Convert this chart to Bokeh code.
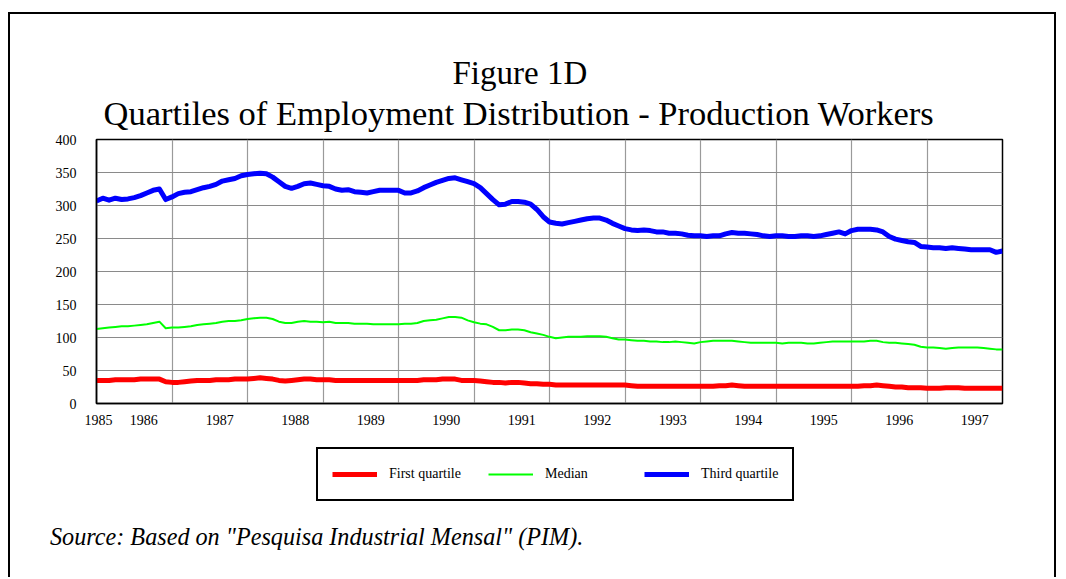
from bokeh.plotting import figure
from bokeh.layouts import column
from bokeh.models import Range1d, FixedTicker, Legend, LegendItem, Title, Div
from bokeh.embed import file_html
from bokeh.resources import INLINE

# ---- data (monthly, Jun 1985 .. Jun 1997) ----
years = [1985, 1986, 1987, 1988, 1989, 1990, 1991, 1992, 1993, 1994, 1995, 1996, 1997]

third_quartile = [
    307, 311, 308, 311, 309, 310, 312, 315, 319, 323, 325, 309, 313, 318, 320, 321, 324, 327, 329, 332, 337, 339, 341, 345, 347,
    348, 349, 348, 343, 336, 329, 326, 329, 333, 334, 332, 330, 329, 325, 323, 324, 321, 320, 319, 321, 323, 323, 323, 323,
    319, 319, 322, 327, 331, 335, 338, 341, 342, 339, 336, 333, 327, 318, 309, 301, 302, 306, 306, 305, 302, 294, 283, 275,
    273, 272, 274, 276, 278, 280, 281, 281, 278, 273, 269, 265, 263, 262, 263, 262, 260, 260, 258, 258, 257, 255, 254, 254,
    253, 254, 254, 257, 259, 258, 258, 257, 256, 254, 253, 254, 254, 253, 253, 254, 254, 253, 254, 256, 258, 260, 257, 262,
    264, 264, 264, 263, 260, 253, 249, 247, 245, 244, 238, 237, 236, 236, 235, 236, 235, 234, 233, 233, 233, 233, 229, 231,
]

median = [
    113, 114, 115, 116, 117, 117, 118, 119, 120, 122, 124, 114, 115, 115, 116, 117, 119, 120, 121, 122, 124, 125, 125, 126, 128,
    129, 130, 130, 128, 124, 122, 122, 124, 125, 124, 124, 123, 124, 122, 122, 122, 121, 121, 121, 120, 120, 120, 120, 120,
    121, 121, 122, 125, 126, 127, 129, 131, 131, 130, 126, 123, 121, 120, 116, 111, 111, 112, 112, 111, 108, 106, 104, 101,
    99, 100, 101, 101, 101, 102, 102, 102, 101, 99, 97, 97, 96, 95, 95, 94, 94, 93, 93, 94, 93, 92, 91, 93,
    94, 95, 95, 95, 95, 94, 93, 92, 92, 92, 92, 92, 91, 92, 92, 92, 91, 91, 92, 93, 94, 94, 94, 94,
    94, 94, 95, 95, 93, 92, 92, 91, 90, 89, 86, 85, 85, 84, 83, 84, 85, 85, 85, 85, 84, 83, 82, 82,
]

first_quartile = [
    35, 35, 35, 36, 36, 36, 36, 37, 37, 37, 37, 33, 32, 32, 33, 34, 35, 35, 35, 36, 36, 36, 37, 37, 37,
    38, 39, 38, 37, 35, 34, 35, 36, 37, 37, 36, 36, 36, 35, 35, 35, 35, 35, 35, 35, 35, 35, 35, 35,
    35, 35, 35, 36, 36, 36, 37, 37, 37, 35, 35, 35, 34, 33, 32, 32, 31, 32, 32, 31, 30, 30, 29, 29,
    28, 28, 28, 28, 28, 28, 28, 28, 28, 28, 28, 28, 27, 26, 26, 26, 26, 26, 26, 26, 26, 26, 26, 26,
    26, 26, 27, 27, 28, 27, 26, 26, 26, 26, 26, 26, 26, 26, 26, 26, 26, 26, 26, 26, 26, 26, 26, 26,
    26, 27, 27, 28, 27, 26, 25, 25, 24, 24, 24, 23, 23, 23, 24, 24, 24, 23, 23, 23, 23, 23, 23, 23,
]

y_ticks = [0, 50, 100, 150, 200, 250, 300, 350, 400]

series_names = ["First quartile", "Median", "Third quartile"]
series_values = [first_quartile, median, third_quartile]
series_colors = ["#FF0000", "#00FF00", "#0000FF"]
series_widths = [5, 2, 5]

months = list(range(len(third_quartile)))
n_last = months[-1]

SERIF = "Liberation Serif"
BORDER = "2px solid black"

# ---------------- main chart ----------------
p = figure(width=1048, height=421, output_backend="svg", toolbar_location=None,
           x_range=Range1d(0, n_last), y_range=Range1d(0, 400),
           min_border_left=86, min_border_right=56, min_border_top=125, min_border_bottom=32,
           background_fill_color="white", border_fill_color="white")
p.styles = {"border-left": BORDER, "border-top": BORDER, "border-right": BORDER}

p.outline_line_color = "black"
p.outline_line_width = 1.5

label_pos = [0.3, 7.5] + [round(7.6 + 12 * k, 1) for k in range(1, len(years) - 1)]
p.xaxis.ticker = FixedTicker(ticks=label_pos)
p.xaxis.major_label_overrides = {pos: str(y) for pos, y in zip(label_pos, years)}
p.xgrid.ticker = FixedTicker(ticks=list(range(12, n_last, 12)))
p.yaxis.ticker = FixedTicker(ticks=y_ticks)

for ax in (p.xaxis[0], p.yaxis[0]):
    ax.major_tick_out = 0
    ax.major_tick_in = 0
    ax.minor_tick_out = 0
    ax.minor_tick_in = 0
    ax.axis_line_color = "black"
    ax.axis_line_width = 1.5
    ax.major_label_text_font = SERIF
    ax.major_label_text_font_size = "14px"
    ax.major_label_text_color = "black"
p.yaxis.major_label_standoff = 20
p.xaxis.major_label_standoff = 11

p.xgrid.grid_line_color = "#9a9a9a"
p.xgrid.grid_line_width = 1.2
p.ygrid.grid_line_color = "#8a8a8a"
p.ygrid.grid_line_width = 1.2

for vals, c, w in reversed(list(zip(series_values, series_colors, series_widths))):
    p.line(months, vals, line_color=c, line_width=w, line_join="round")

p.add_layout(Title(text="Quartiles of Employment Distribution - Production Workers",
                   align="left", offset=7, standoff=15,
                   text_font=SERIF, text_font_size="34.5px", text_font_style="normal",
                   text_color="black"), "above")
p.add_layout(Title(text="Figure 1D", align="left", offset=356, standoff=-12,
                   text_font=SERIF, text_font_size="33px", text_font_style="normal",
                   text_color="black"), "above")

# ---------------- legend strip ----------------
H2 = 87
p2 = figure(width=1048, height=H2, output_backend="svg", toolbar_location=None,
            x_range=Range1d(-1, 0), y_range=Range1d(-1, 0),
            x_axis_location=None, y_axis_location=None,
            min_border_left=0, min_border_right=0, min_border_top=0, min_border_bottom=0,
            background_fill_color="white", border_fill_color="white")
p2.styles = {"border-left": BORDER, "border-right": BORDER}
p2.outline_line_color = None
p2.xgrid.visible = False
p2.ygrid.visible = False

# same series, outside the strip's visible range: only their legend swatches show
legend_renderers = [p2.line(months, vals, line_color=c, line_width=w)
                    for vals, c, w in zip(series_values, series_colors, series_widths)]
legend = Legend(items=[LegendItem(label=n, renderers=[r]) for n, r in zip(series_names, legend_renderers)],
                orientation="horizontal", location=(220, H2 - 18 - 50), margin=0,
                glyph_width=45, glyph_height=20, label_width=76, label_height=22,
                label_standoff=12, spacing=23, padding=14,
                border_line_color="black", border_line_width=2, border_line_alpha=1.0,
                background_fill_color="white", background_fill_alpha=1,
                label_text_font=SERIF, label_text_font_size="14px", label_text_color="black")
p2.add_layout(legend, "center")

# ---------------- source note ----------------
source = Div(text='Source: Based on "Pesquisa Industrial Mensal" (PIM).',
             width=1048, height=57, margin=0,
             styles={"border-left": BORDER, "border-right": BORDER,
                     "padding-left": "40px", "padding-top": "3px", "box-sizing": "border-box",
                     "font-family": SERIF, "font-style": "italic",
                     "font-size": "24.2px", "line-height": "28px", "color": "black"})

layout = column(p, p2, source, spacing=0)
layout.styles = {"margin-left": "8px", "margin-top": "12px"}

open("out.html", "w").write(file_html(layout, INLINE))
